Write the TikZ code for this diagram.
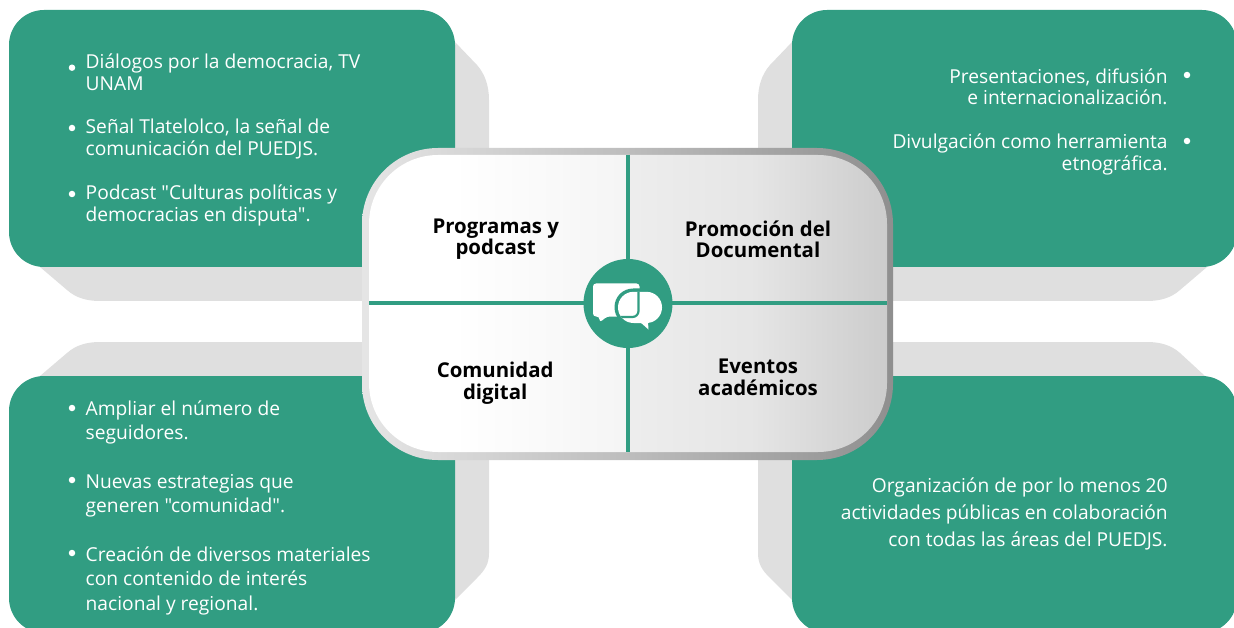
\documentclass[tikz,border=0pt]{standalone}
\usepackage{fontspec}
\setmainfont{Open Sans}[Ligatures=TeXOff]
\usetikzlibrary{calc}
\definecolor{teal1}{HTML}{319D82}
\definecolor{shade1}{HTML}{DFDFDF}
\pgfdeclarehorizontalshading{ringshade}{100bp}{color(0bp)=(white!90!black); color(25bp)=(white!90!black); color(50bp)=(white!74!black); color(75bp)=(white!56!black); color(100bp)=(white!56!black)}
\pgfdeclarehorizontalshading{innershade}{100bp}{color(0bp)=(white); color(25bp)=(white); color(33bp)=(white); color(49.8bp)=(white!96!black); color(50.2bp)=(white!93!black); color(62bp)=(white!90!black); color(75bp)=(white!80!black); color(100bp)=(white!80!black)}
\tikzset{
  x=1pt,y=-1pt,
  panel/.style={fill=teal1,rounded corners=35pt},
  backing/.style={fill=shade1},
  para/.style={text=white,inner sep=0pt,font=\fontsize{19.2}{21.8}\selectfont},
  lpara/.style={para,align=left,anchor=base west},
  rpara/.style={para,align=right,anchor=base east},
  title/.style={inner sep=0pt,align=center,anchor=base,text=black,font=\fontsize{20.4}{21.6}\selectfont\bfseries},
  dot/.style={circle,fill=white,inner sep=0pt,minimum size=6.5pt},
  divider/.style={draw=teal1,line width=3.6pt},
}
\begin{document}
\begin{tikzpicture}
\clip (0,0) rectangle (1234,628);
% backing shapes
\fill[backing] (400,44) -- (455,42) -- (477,65) .. controls (485,74) and (489,86) .. (489,100) -- (489,240) -- (489,301) -- (100,301) .. controls (87,301) and (76,298) .. (67,290) -- (40,267) -- (300,100) -- cycle;
\fill[backing] (834,44) -- (792,42) -- (770,65) .. controls (762,74) and (758,86) .. (758,100) -- (758,301) -- (1147,301) .. controls (1160,301) and (1171,298) .. (1180,290) -- (1207,267) -- (900,100) -- cycle;
\fill[backing] (300,500) -- (40,376) -- (67,353) .. controls (76,345) and (87,342) .. (100,342) -- (489,342) -- (489,553) .. controls (489,564) and (485,570) .. (477,578) -- (455,600) -- cycle;
\fill[backing] (900,500) -- (1205,376) -- (1180,353) .. controls (1171,345) and (1160,342) .. (1147,342) -- (758,342) -- (758,553) .. controls (758,564) and (762,570) .. (770,578) -- (792,600) -- cycle;
% green panels
\fill[panel] (9,10) rectangle (455,267);
\fill[panel] (792,10) rectangle (1237,267);
\fill[panel] (9,376) rectangle (455,633);
\fill[panel] (792,376) rectangle (1237,633);
% centre card
\shade[shading=ringshade,rounded corners=76pt] (362,148) rectangle (893,460);
\shade[shading=innershade,rounded corners=69pt] (369,155) rectangle (887,452);
\coordinate (vt) at (628,155);
\coordinate (vb) at (628,452);
\coordinate (hl) at (369,303);
\coordinate (hr) at (887,303);
\draw[divider] (vt) -- (vb);
\draw[divider] (hl) -- (hr);
\node[circle,fill=teal1,minimum size=89pt,inner sep=0pt] (hub) at (628,303.5) {};
% icon: left bubble
\fill[white,rounded corners=3pt] (593,283.5) -- (639.5,283.5) -- (639.5,316.5) -- (607,316.5) -- (599.5,322.5) -- (599.5,316.5) -- (593,316.5) -- cycle;
% icon: right bubble, ringed
\fill[teal1,rounded corners=18.5pt] (614.5,288.5) rectangle (665,326);
\fill[white] (640,322) -- (648.5,329.5) -- (648,322) -- cycle;
\fill[white,rounded corners=15.5pt] (618,291.8) rectangle (662,323);
\begin{scope}
  \clip[rounded corners=15.5pt] (618,291.8) rectangle (662,323);
  \draw[teal1,line width=2.2pt,rounded corners=6pt] (593,283.5) rectangle (638.5,317);
\end{scope}
% titles
\node[title] (t1) at (495.7,255) {Programas y\\podcast};
\node[title] (t2) at (758,258) {Promoción del\\Documental};
\node[title] (t3) at (495.2,399.5) {Comunidad\\digital};
\node[title] (t4) at (758,395) {Eventos\\académicos};
% top left
\node[dot] (d1) at (72,67.7) {};
\node[dot] (d2) at (72,128) {};
\node[dot] (d3) at (72,194) {};
\node[lpara] (a1) at (85.5,90.2) {Diálogos por la democracia, TV\\UNAM};
\node[lpara] (a2) at (85.5,155.7) {Señal Tlatelolco, la señal de\\comunicación del PUEDJS.};
\node[lpara] (a3) at (85.5,221.2) {Podcast "Culturas políticas y\\democracias en disputa".};
% top right
\node[dot] (d4) at (1187,75) {};
\node[dot] (d5) at (1187,141) {};
\node[rpara] (b1) at (1167.8,105) {Presentaciones, difusión\\e internacionalización.};
\node[rpara] (b2) at (1167.8,170.3) {Divulgación como herramienta\\etnográfica.};
% bottom left
\node[dot] (d6) at (72,408) {};
\node[dot] (d7) at (72,480) {};
\node[dot] (d8) at (72,553) {};
\node[lpara,font=\fontsize{19.2}{24.3}\selectfont] (c1) at (85.5,439.3) {Ampliar el número de\\seguidores.};
\node[lpara,font=\fontsize{19.2}{24.3}\selectfont] (c2) at (85.5,512.7) {Nuevas estrategias que\\generen "comunidad".};
\node[lpara,font=\fontsize{19.2}{24.5}\selectfont] (c3) at (85.5,610) {Creación de diversos materiales\\con contenido de interés\\nacional y regional.};
% bottom right
\node[rpara,font=\fontsize{19.2}{27}\selectfont] (e1) at (1167.8,546) {Organización de por lo menos 20\\actividades públicas en colaboración\\con todas las áreas del PUEDJS.};
\end{tikzpicture}
\end{document}
